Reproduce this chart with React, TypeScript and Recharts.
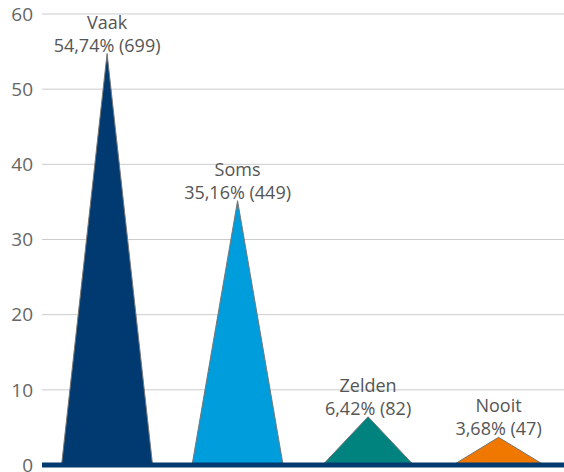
import { Bar, BarChart, CartesianGrid, Cell, LabelList, ReferenceLine, XAxis, YAxis } from 'recharts'

const categories = ['Vaak', 'Soms', 'Zelden', 'Nooit']
const percentages = [54.74, 35.16, 6.42, 3.68]
const counts = [699, 449, 82, 47]
const colors = ['#003a70', '#009ddc', '#00827f', '#f07800']
const yTicks = [0, 10, 20, 30, 40, 50, 60]

const data = categories.map((name, i) => ({
  name,
  value: percentages[i],
  count: counts[i],
}))

const fontFamily = '"Open Sans", sans-serif'

document.body.style.margin = '0'
document.body.style.overflow = 'hidden'

// triangle instead of a rectangle
function Triangle(props: any) {
  const { x, y, width, height, fill } = props
  const path = `M${x},${y + height} L${x + width / 2},${y} L${x + width},${y + height} Z`
  return <path d={path} fill={fill} stroke="#777" strokeWidth={1} />
}

function PeakLabel(props: any) {
  const { x, y, width, index } = props
  const cx = x + width / 2
  const pct = percentages[index].toFixed(2).replace('.', ',')
  return (
    <g fontFamily={fontFamily} fontSize={18} fill="#555" textAnchor="middle">
      <text x={cx} y={y - 32} dominantBaseline="central">
        {categories[index]}
      </text>
      <text x={cx} y={y - 9} dominantBaseline="central">
        {`${pct}% (${counts[index]})`}
      </text>
    </g>
  )
}

export default function App() {
  return (
    <div style={{ width: 564, height: 472, overflow: 'hidden', background: '#fff' }}>
      <BarChart
        width={564}
        height={472}
        data={data}
        margin={{ top: 14, right: 0, bottom: 7, left: 0 }}
        barCategoryGap="15%"
      >
        <CartesianGrid vertical={false} stroke="#cccccc" />
        <XAxis dataKey="name" hide />
        <YAxis
          width={42}
          domain={[0, 60]}
          ticks={yTicks}
          interval={0}
          tickLine={false}
          axisLine={false}
          tickSize={0}
          tickMargin={9}
          tick={{ fill: '#666', fontSize: 19, fontFamily }}
        />
        <Bar dataKey="value" shape={<Triangle />} isAnimationActive={false}>
          {data.map((d, i) => (
            <Cell key={d.name} fill={colors[i]} />
          ))}
          <LabelList dataKey="value" content={<PeakLabel />} />
        </Bar>
        <ReferenceLine y={0} stroke="#003a70" strokeWidth={5} />
      </BarChart>
    </div>
  )
}
